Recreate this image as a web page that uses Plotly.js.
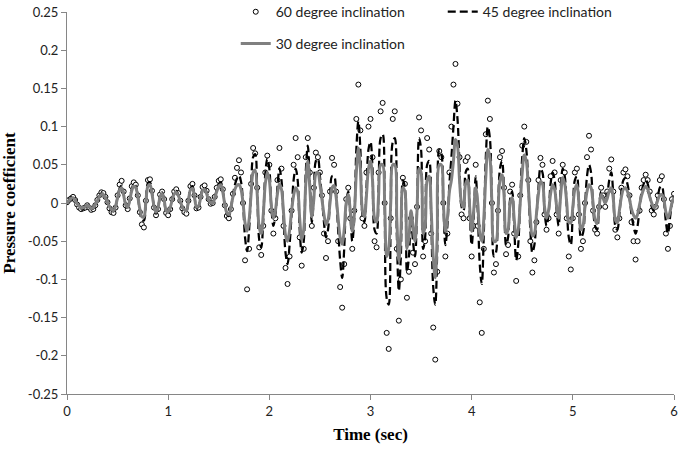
<!DOCTYPE html>
<html>
<head>
<meta charset="utf-8">
<script src="https://cdn.plot.ly/plotly-3.0.1.min.js"></script>
<style>html,body{margin:0;padding:0;background:#fff;}#chart{width:685px;height:451px;}</style>
</head>
<body>
<div id="chart"></div>
<script>
// Sampling of the records (seconds)
const timeStart = 0;
const timeStep = 0.02;

const seriesNames = ["60 degree inclination", "45 degree inclination", "30 degree inclination"];

// 60 degree inclination (circles)
const cp60 = [
0.001,0.004,0.006,0.008,0.004,-0.002,-0.006,-0.008,-0.007,-0.006,
-0.003,-0.006,-0.009,-0.008,-0.003,0.004,0.010,0.014,0.013,0.008,
0.001,-0.007,-0.012,-0.013,-0.006,0.010,0.024,0.029,0.015,-0.003,
-0.008,0.006,0.022,0.027,0.024,0.010,-0.012,-0.028,-0.032,0.003,
0.030,0.031,0.016,-0.006,-0.016,-0.008,0.011,0.015,0.005,-0.013,
-0.016,-0.008,0.005,0.015,0.018,0.013,0.003,-0.007,-0.012,-0.014,
0.003,0.022,0.025,0.010,-0.007,-0.006,0.008,0.021,0.023,0.016,
0.005,-0.001,0.000,0.008,0.020,0.029,0.031,0.018,-0.003,-0.017,
-0.020,-0.008,0.012,0.033,0.046,0.056,0.040,0.000,-0.075,-0.113,
-0.060,0.025,0.072,0.065,0.020,-0.058,-0.068,-0.030,0.040,0.062,
0.050,-0.010,-0.040,-0.020,0.030,0.072,0.045,-0.030,-0.085,-0.106,
-0.070,-0.010,0.050,0.085,0.060,-0.045,-0.082,-0.060,0.060,0.085,
0.040,-0.030,0.020,0.066,0.060,0.040,0.010,-0.040,-0.072,-0.050,
0.015,0.059,0.050,0.015,-0.050,-0.110,-0.137,-0.080,0.005,0.020,
-0.020,-0.060,-0.010,0.110,0.155,0.095,-0.020,-0.030,0.040,0.100,
0.110,0.060,-0.050,-0.058,0.040,0.120,0.131,0.000,-0.170,-0.191,
-0.020,0.110,0.120,-0.060,-0.154,-0.100,0.033,0.025,-0.124,-0.090,
-0.020,-0.065,-0.080,-0.005,0.112,0.095,-0.070,-0.050,0.085,0.070,
-0.040,-0.163,-0.205,-0.090,0.068,0.060,0.000,-0.070,-0.040,0.040,
0.100,0.155,0.182,0.130,0.060,-0.015,-0.020,0.055,0.060,-0.020,
-0.070,-0.030,0.050,-0.030,-0.130,-0.170,-0.060,0.090,0.134,0.110,
0.000,-0.091,-0.080,-0.010,0.060,0.068,0.020,-0.067,-0.055,0.015,
0.024,-0.040,-0.102,-0.070,0.010,0.075,0.100,0.080,0.030,-0.050,
-0.091,-0.075,-0.025,0.030,0.059,0.050,-0.015,-0.035,-0.020,0.035,
0.055,0.040,-0.015,-0.040,0.030,0.050,0.040,-0.020,-0.070,-0.087,
-0.020,0.040,0.045,-0.015,-0.060,-0.050,0.000,0.060,0.088,0.070,
-0.010,-0.035,-0.040,-0.005,0.020,0.010,-0.005,0.015,0.045,0.057,
0.015,-0.035,-0.045,-0.020,0.020,0.040,0.044,0.035,0.010,-0.025,
-0.050,-0.074,-0.050,-0.010,0.020,0.030,0.037,0.030,0.015,-0.010,
-0.015,-0.005,0.010,0.030,0.035,0.005,-0.040,-0.060,-0.030,0.005,
0.012];

// 45 degree inclination (dashed black line)
const cp45 = [
0.000,0.003,0.007,0.008,0.005,-0.001,-0.005,-0.007,-0.007,-0.005,
-0.004,-0.005,-0.008,-0.007,-0.002,0.004,0.009,0.012,0.012,0.008,
0.001,-0.006,-0.010,-0.011,-0.005,0.008,0.019,0.023,0.012,-0.002,
-0.007,0.005,0.018,0.025,0.022,0.009,-0.010,-0.022,-0.023,0.002,
0.026,0.027,0.014,-0.005,-0.014,-0.007,0.009,0.014,0.005,-0.012,
-0.014,-0.007,0.005,0.014,0.016,0.011,0.002,-0.006,-0.010,-0.011,
0.002,0.019,0.022,0.009,-0.006,-0.005,0.007,0.018,0.020,0.014,
0.005,0.000,0.000,0.007,0.017,0.025,0.027,0.016,-0.002,-0.015,
-0.017,-0.007,0.010,0.024,0.032,0.036,0.028,0.000,-0.045,-0.063,
-0.035,0.018,0.060,0.064,0.018,-0.048,-0.058,-0.022,0.038,0.058,
0.045,-0.006,-0.030,-0.015,0.020,0.045,0.030,-0.020,-0.065,-0.080,
-0.055,-0.015,0.030,0.045,0.030,-0.035,-0.065,-0.050,0.040,0.075,
0.030,-0.025,0.010,0.055,0.058,0.035,0.008,-0.025,-0.045,-0.035,
0.005,0.035,0.035,0.012,-0.035,-0.075,-0.098,-0.060,0.000,0.015,
-0.015,-0.050,-0.020,0.070,0.107,0.070,-0.015,-0.025,0.020,0.070,
0.080,0.045,-0.035,-0.040,0.020,0.085,0.090,0.000,-0.125,-0.133,
-0.010,0.080,0.085,-0.040,-0.115,-0.070,0.030,0.020,-0.090,-0.070,
-0.015,-0.050,-0.070,-0.010,0.085,0.070,-0.060,-0.045,0.050,0.055,
-0.020,-0.110,-0.133,-0.060,0.070,0.065,0.000,-0.055,-0.030,0.025,
0.060,0.100,0.134,0.110,0.050,-0.005,-0.010,0.040,0.045,-0.010,
-0.055,-0.020,0.035,-0.010,-0.080,-0.106,-0.040,0.060,0.100,0.085,
0.000,-0.070,-0.065,-0.010,0.045,0.055,0.015,-0.055,-0.045,0.005,
0.015,-0.030,-0.075,-0.055,0.005,0.060,0.085,0.070,0.025,-0.035,
-0.065,-0.055,-0.020,0.020,0.045,0.040,-0.010,-0.030,-0.015,0.025,
0.040,0.030,-0.010,-0.030,0.020,0.045,0.035,-0.005,-0.045,-0.055,
-0.010,0.030,0.035,-0.005,-0.045,-0.040,-0.005,0.035,0.050,0.040,
-0.005,-0.030,-0.035,-0.005,0.015,0.008,0.000,0.010,0.030,0.040,
0.010,-0.030,-0.035,-0.015,0.015,0.030,0.033,0.025,0.008,-0.015,
-0.030,-0.040,-0.030,-0.005,0.015,0.025,0.030,0.025,0.010,-0.005,
-0.010,-0.005,0.008,0.020,0.022,0.005,-0.025,-0.040,-0.020,0.000,
0.010];

// 30 degree inclination (solid grey line)
const cp30 = [
0.000,0.003,0.006,0.007,0.004,-0.001,-0.004,-0.006,-0.006,-0.005,
-0.003,-0.004,-0.007,-0.006,-0.002,0.003,0.008,0.011,0.011,0.007,
0.001,-0.005,-0.009,-0.010,-0.004,0.007,0.017,0.020,0.010,-0.002,
-0.006,0.004,0.016,0.022,0.020,0.008,-0.008,-0.018,-0.018,0.002,
0.022,0.024,0.012,-0.004,-0.012,-0.006,0.008,0.012,0.004,-0.010,
-0.012,-0.006,0.004,0.012,0.014,0.010,0.002,-0.005,-0.009,-0.010,
0.002,0.017,0.019,0.008,-0.005,-0.004,0.006,0.016,0.018,0.012,
0.004,0.000,0.000,0.006,0.015,0.022,0.024,0.014,-0.002,-0.013,
-0.015,-0.006,0.008,0.018,0.023,0.024,0.018,0.000,-0.026,-0.037,
-0.022,0.012,0.040,0.043,0.012,-0.032,-0.040,-0.015,0.025,0.040,
0.030,-0.004,-0.020,-0.010,0.012,0.025,0.018,-0.012,-0.042,-0.050,
-0.036,-0.010,0.010,0.020,0.015,-0.020,-0.048,-0.035,0.025,0.055,
0.020,-0.018,0.005,0.038,0.040,0.025,0.005,-0.015,-0.028,-0.022,
0.000,0.020,0.023,0.008,-0.020,-0.045,-0.054,-0.035,0.000,0.011,
-0.010,-0.037,-0.015,0.040,0.072,0.045,-0.010,-0.018,0.010,0.045,
0.055,0.030,-0.020,-0.025,0.010,0.050,0.050,0.000,-0.070,-0.060,
0.000,0.050,0.050,-0.020,-0.076,-0.040,0.020,0.015,-0.060,-0.045,
-0.010,-0.030,-0.050,-0.010,0.045,0.040,-0.040,-0.030,0.030,0.035,
-0.010,-0.070,-0.098,-0.040,0.050,0.050,0.000,-0.037,-0.020,0.015,
0.030,0.055,0.083,0.075,0.030,0.000,-0.006,0.025,0.030,-0.005,
-0.037,-0.010,0.020,0.000,-0.040,-0.050,-0.020,0.035,0.070,0.060,
0.000,-0.050,-0.050,-0.010,0.030,0.037,0.010,-0.040,-0.035,0.000,
0.007,-0.020,-0.045,-0.035,0.000,0.040,0.063,0.055,0.020,-0.020,
-0.043,-0.040,-0.015,0.012,0.028,0.025,-0.005,-0.020,-0.010,0.012,
0.024,0.018,-0.005,-0.020,0.010,0.033,0.025,0.000,-0.025,-0.026,
-0.005,0.018,0.024,0.000,-0.035,-0.030,-0.005,0.015,0.024,0.020,
0.000,-0.022,-0.027,-0.005,0.011,0.006,0.000,0.006,0.016,0.020,
0.005,-0.022,-0.026,-0.010,0.008,0.018,0.020,0.015,0.005,-0.008,
-0.016,-0.020,-0.015,-0.002,0.010,0.018,0.022,0.018,0.008,0.000,
-0.006,-0.004,0.004,0.010,0.011,0.004,-0.012,-0.020,-0.012,0.000,
0.007];

const xTickVals = [0, 1, 2, 3, 4, 5, 6];
const xTickText = ["0", "1", "2", "3", "4", "5", "6"];
const yTickVals = [-0.25, -0.2, -0.15, -0.1, -0.05, 0, 0.05, 0.1, 0.15, 0.2, 0.25];
const yTickText = ["-0.25", "-0.2", "-0.15", "-0.1", "-0.05", "0", "0.05", "0.1", "0.15", "0.2", "0.25"];

const tickFont = {family: "Lato, 'Open Sans', sans-serif", size: 13, color: "#222"};
const titleFont = {family: "'Liberation Serif', 'DejaVu Serif', serif", size: 17, color: "#000", weight: "bold"};
const axisGrey = "#868686";

const traces = [
  {
    type: "scatter", mode: "markers", name: seriesNames[0],
    x0: timeStart, dx: timeStep, y: cp60,
    marker: {symbol: "circle", size: 5, color: "#ffffff", line: {color: "#000", width: 1}},
    legend: "legend"
  },
  {
    type: "scatter", mode: "lines", name: seriesNames[1],
    x0: timeStart, dx: timeStep, y: cp45,
    line: {color: "#000", width: 2.25, dash: "8px,4px", shape: "spline"},
    legend: "legend"
  },
  {
    type: "scatter", mode: "lines", name: seriesNames[2],
    x0: timeStart, dx: timeStep, y: cp30,
    line: {color: "#808080", width: 3, shape: "spline"},
    legend: "legend2"
  }
];

const legendFont = {family: "Lato, 'Open Sans', sans-serif", size: 14, color: "#222"};

const layout = {
  width: 685, height: 451,
  margin: {l: 67, r: 11, t: 12, b: 57, autoexpand: false},
  paper_bgcolor: "#fff", plot_bgcolor: "#fff",
  showlegend: true,
  xaxis: {
    range: [0, 6], tickmode: "array", tickvals: xTickVals, ticktext: xTickText,
    ticks: "outside", ticklen: 5, tickcolor: axisGrey, showline: true, linecolor: axisGrey, linewidth: 1,
    showgrid: false, zeroline: false, tickfont: tickFont,
    title: {text: "Time (sec)", font: titleFont, standoff: 10}
  },
  yaxis: {
    range: [-0.25, 0.25], tickmode: "array", tickvals: yTickVals, ticktext: yTickText,
    ticks: "outside", ticklen: 5, tickcolor: axisGrey, showline: true, linecolor: axisGrey, linewidth: 1,
    showgrid: false, zeroline: false, tickfont: tickFont,
    title: {text: "Pressure coefficient", font: titleFont, standoff: 8}
  },
  legend: {
    orientation: "h", x: 0.278, xanchor: "left", y: 1.0415, yanchor: "top",
    entrywidth: 162, entrywidthmode: "pixels", font: legendFont,
    bgcolor: "rgba(0,0,0,0)", borderwidth: 0
  },
  legend2: {
    orientation: "h", x: 0.278, xanchor: "left", y: 0.9585, yanchor: "top",
    font: legendFont, bgcolor: "rgba(0,0,0,0)", borderwidth: 0
  }
};

Plotly.newPlot("chart", traces, layout, {displayModeBar: false, staticPlot: true});
</script>
</body>
</html>
